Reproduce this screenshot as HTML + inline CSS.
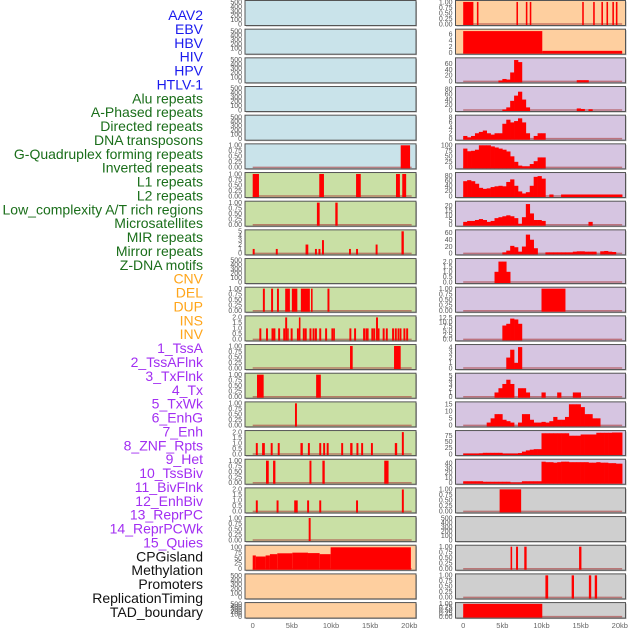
<!DOCTYPE html>
<html><head><meta charset="utf-8">
<style>
html,body{margin:0;padding:0;background:#fff;}
svg{display:block;font-family:"Liberation Sans",sans-serif;}
</style></head>
<body>
<svg id="chart" width="630" height="630" viewBox="0 0 630 630" xmlns="http://www.w3.org/2000/svg"></svg>
<script>
const NS="http://www.w3.org/2000/svg";
const labels=["AAV2","EBV","HBV","HIV","HPV","HTLV-1","Alu repeats","A-Phased repeats","Directed repeats","DNA transposons","G-Quadruplex forming repeats","Inverted repeats","L1 repeats","L2 repeats","Low_complexity A/T rich regions","Microsatellites","MIR repeats","Mirror repeats","Z-DNA motifs","CNV","DEL","DUP","INS","INV","1_TssA","2_TssAFlnk","3_TxFlnk","4_Tx","5_TxWk","6_EnhG","7_Enh","8_ZNF_Rpts","9_Het","10_TssBiv","11_BivFlnk","12_EnhBiv","13_ReprPC","14_ReprPCWk","15_Quies","CPGisland","Methylation","Promoters","ReplicationTiming","TAD_boundary"];
const labelGroups=["v","v","v","v","v","v","r","r","r","r","r","r","r","r","r","r","r","r","r","s","s","s","s","s","c","c","c","c","c","c","c","c","c","c","c","c","c","c","c","o","o","o","o","o"];
const xTickVals=[0,5,10,15,20];
const xTickLabels=["0","5kb","10kb","15kb","20kb"];
const T500=["0","100","200","300","400","500"], V500=[0,100,200,300,400,500];
const T1=["0.00","0.25","0.50","0.75","1.00"], V1=[0,0.25,0.5,0.75,1];
const T2=["0.0","0.5","1.0","1.5","2.0"], V2=[0,0.5,1,1.5,2];
// middle column panels
const midBg=["b","b","b","b","b","b","g","g","g","g","g","g","g","g","g","g","g","g","g","o","o","o"];
const midMax=[520,520,520,520,520,1.02,1.02,1.02,5.1,520,1.02,2.05,1.02,1.02,1.02,2.05,1.02,2.05,1.02,105,520,520];
const midTickVals=[V500,V500,V500,V500,V500,V1,V1,V1,[0,1,2,3,4,5],V500,V1,V2,V1,V1,V1,V2,V1,V2,V1,[0,25,50,75,100],V500,V500];
const midTickLabels=[T500,T500,T500,T500,T500,T1,T1,T1,["0","1","2","3","4","5"],T500,T1,T2,T1,T1,T1,T2,T1,T2,T1,["0","25","50","75","100"],T500,T500];
const midSegs=[[],[],[],[],[],
[[18.9,20.1,1]],
[[0,0.8,1],[8.5,9.1,1],[13.2,13.8,1],[18.3,18.8,1],[19.1,19.6,1]],
[[8.2,8.55,1],[10.55,10.85,1]],
[[0.0,0.25,1],[2.95,3.2,1],[6.75,7.1,2],[7.95,8.2,1],[8.4,8.65,1],[8.85,9.1,3],[12.3,12.55,1],[13.2,13.45,1],[15.7,15.95,2],[19.0,19.3,5]],
[],
[[1.3,1.55,1],[2.35,2.6,1],[3.1,3.35,1],[4.15,4.75,1],[5.0,5.7,1],[6.15,7.3,1],[7.45,7.65,1],[9.55,9.8,1]],
[[0.85,1.1,1],[1.7,1.95,1],[2.4,2.65,1],[2.65,2.9,1],[3.25,3.5,1],[3.9,4.15,1],[4.15,4.4,2],[4.4,4.6,1],[4.85,5.1,1],[5.65,5.9,1],[5.9,6.1,2],[6.4,6.65,1],[6.65,6.9,1],[7.25,7.5,1],[7.65,7.9,1],[7.95,8.2,1],[8.5,8.75,1],[9.25,9.5,1],[10.05,10.3,1],[10.3,10.5,1],[12.35,12.6,1],[12.95,13.2,1],[14.1,14.35,1],[14.4,14.6,1],[14.6,14.8,1],[15.15,15.4,1],[15.4,15.65,1],[15.75,16.0,2],[16.0,16.2,1],[16.6,16.85,1],[17.0,17.25,1],[17.8,18.05,1],[18.15,18.4,1],[18.5,18.7,1],[18.75,19.0,1],[19.25,19.5,1],[19.6,19.85,1]],
[[12.43,12.77,1],[18.05,18.9,1]],
[[0.55,1.4,1],[8.1,8.7,1]],
[[5.4,5.65,1]],
[[0.4,0.65,1],[1.2,1.55,1],[2.3,2.55,1],[3.2,3.45,1],[6.1,6.4,1],[7.05,7.3,1],[8.5,8.75,1],[9.0,9.25,1],[9.45,9.7,1],[11.3,11.55,1],[12.45,12.75,1],[13.25,13.5,1],[13.85,14.1,1],[15.1,15.35,1],[18.15,18.45,1],[19.05,19.3,2]],
[[1.7,2.05,1],[2.6,2.9,1],[7.25,7.5,1],[8.9,9.2,1],[16.8,17.35,1]],
[[0.4,0.65,1],[3.05,3.3,1],[5.3,5.75,1],[6.95,7.2,1],[8.5,8.75,1],[13.2,13.45,1],[19.05,19.3,2]],
[[7.15,7.4,1]],
[[0,0.4,62],[0.4,1.65,57],[1.65,2.2,62],[2.2,3.14,68],[3.14,5.06,72],[5.06,7.06,75],[7.06,8.55,73],[8.55,9.95,68],[9.95,20.2,100]],
[],[]];
// right column panels
const rightBg=["o","o","p","p","p","p","p","p","p","p","p","p","p","p","p","p","p","y","y","y","y","y"];
const rightMax=[1.02,7.3,76,86,8.3,102,88,24,66,2.2,1.02,13,4.3,5.3,16,92,46,1.02,520,1.02,1.02,1.02];
const rightTickVals=[V1,[0,2,4,6],[0,20,40,60],[0,20,40,60,80],[0,2,4,6,8],[0,25,50,75,100],[0,20,40,60,80],[0,5,10,15,20],[0,20,40,60],V2,V1,[0,2.5,5,7.5,10,12.5],[0,1,2,3,4],[0,1,2,3,4,5],[0,5,10,15],[0,25,50,75],[0,10,20,30,40],V1,V500,V1,V1,V1];
const rightTickLabels=[T1,["0","2","4","6"],["0","20","40","60"],["0","20","40","60","80"],["0","2","4","6","8"],["0","25","50","75","100"],["0","20","40","60","80"],["0","5","10","15","20"],["0","20","40","60"],T2,T1,["0.0","2.5","5.0","7.5","10.0","12.5"],["0","1","2","3","4"],["0","1","2","3","4","5"],["0","5","10","15"],["0","25","50","75"],["0","10","20","30","40"],T1,T500,T1,T1,T1];
const rightSegs=[
[[0,1.3,1],[1.75,1.95,1],[6.8,7.0,1],[8.0,8.2,1],[8.5,8.7,1],[15.2,15.4,1],[16.6,16.8,1],[17.65,17.85,1],[18.3,18.5,1],[19.05,19.25,1],[19.5,19.7,1]],
[[0,10.1,7],[10.1,20.3,0.6]],
[],[],[],[],[],[],[],[],
[[10.0,13.06,1]],
[],[],[],[],[],[],
[[4.65,7.4,1]],
[],
[[6.05,6.25,1],[6.75,7.0,1],[7.8,8.1,1],[14.8,15.1,1]],
[[10.5,10.85,1],[13.85,14.15,1],[16.05,16.35,1],[16.8,17.1,1]],
[[0,10.1,1]]];
// 0.5kb binned histograms (41 bins) for right panels
const binHIV=[0,0,0,0,0,0,0,0,0,3,8,6,30,72,65,0,0,0,0,0,0,0,0,0,0,0,0,0,0,4,4,4,0,0,0,0,0,0,0,0,0];
const binHPV=[0,0,0,0,0,0,0,0,0,0,2,10,35,55,70,40,10,0,0,0,0,0,0,0,0,0,0,0,0,6,4,0,3,0,0,0,0,0,0,0,0];
const binAlu=[1,0.5,1,2,2.5,3,2,1.5,2,2,5.5,7,6,6.5,7.5,6,2,0,1,2,2,0,0,0,0,0,0,0,0,0,0,0,0,0,0,0,0,0,0,0,0];
const binAPh=[85,73,75,80,100,100,100,95,90,85,80,72,50,25,8,5,5,15,28,45,45,0,0,0,0,0,0,0,0,0,0,0,0,0,0,0,0,0,0,0,0];
const binDir=[58,62,58,48,32,28,30,35,38,40,38,55,65,40,18,10,15,40,75,78,68,0,6,0,0,6,6,6,6,6,6,6,6,6,6,6,6,6,6,6,6];
const binDNA=[3,4,4,5,6,5,3,4,7,8,9,10,9,7,1,8,22,12,5,5,4,0,0,0,0,0,0,0,0,0,0,0,3,0,0,0,0,0,0,0,0];
const binGQ=[0,0,0,0,0,0,0,0,0,0,3,8,22,18,5,20,55,40,15,0,0,3,3,3,3,3,3,3,5,6,6,5,5,5,0,6,7,5,4,0,0];
const binInv=[0,0,0,0,0,0,0,0,1,2,2,1,0,0,0,0,0,0,0,0,0,0,0,0,0,0,0,0,0,0,0,0,0,0,0,0,0,0,0,0,0];
const binL2=[0,0,0,0,0,0,0,0,0,0,8,9,12,11.5,9,0,0,0,0,0,0,0,0,0,0,0,0,0,0,0,0,0,0,0,0,0,0,0,0,0,0];
const binLow=[0,0,0,0,0,0,0,0,0,0,0,2,3.5,1,4,0,0,0,0,0,0,0,0,0,0,0,0,0,0,0,0,0,0,0,0,0,0,0,0,0,0];
const binMic=[0,0,0,0,0,0,0,0,1,2,3,4,3,0,2,2,1,0,0,0,1,0,0,0,1,0,0,0,1,1,0,0,0,0,0,0,0,0,0,0,0];
const binMIR=[0,0,0,0,0,0,2,5,8,8,4,3,2,0,2,8,8,4,2,2,2.5,2,3,6,4,4,6,15,15,15,13,8,8,5,5,0,0,0,0,0,0];
const binMirror=[2,2,2,2,3,5,5,5,5,5,2,2,2,2,4,10,15,18,20,20,85,85,85,85,85,85,85,75,75,75,80,80,80,80,87,87,87,87,88,88,88];
const binZ=[3,3,3,3,3,2,2,2,2,2,2,2,0.5,0.5,0.5,3,3,3,3,3,43,42,42,41,42,43,43,42,42,42,42,42,41,41,42,41,41,40,40,39,39];
const rightBins=[null,null,binHIV,binHPV,binAlu,binAPh,binDir,binDNA,binGQ,binInv,null,binL2,binLow,binMic,binMIR,binMirror,binZ,null,null,null,null,null];

const bgColors={b:"#c9e3ea",g:"#c9e0a5",o:"#fecf9f",p:"#d6c5e1",y:"#cfcfcf"};
const groupColors={v:"#1a1aee",r:"#1a6e1a",s:"#ffa51a",c:"#a22ef2",o:"#111111"};
const PITCH=28.67, PH=25, LASTH=15.5;
const cols=[{x:245,w:171,bg:midBg,max:midMax,tv:midTickVals,tl:midTickLabels,segs:midSegs,bins:null,name:"left-track"},
            {x:455.5,w:170,bg:rightBg,max:rightMax,tv:rightTickVals,tl:rightTickLabels,segs:rightSegs,bins:rightBins,name:"right-track"}];
const svg=document.getElementById("chart");
function mk(tag,attrs,parent){const e=document.createElementNS(NS,tag);for(const k in attrs)e.setAttribute(k,attrs[k]);(parent||svg).appendChild(e);return e;}

const lg=mk("g",{});


labels.forEach((t,i)=>{
  const e=mk("text",{x:203,y:20+i*13.88,"text-anchor":"end","font-size":"14",fill:groupColors[labelGroups[i]]},lg);
  e.textContent=t;
  
  
});

cols.forEach((c,ci)=>{
  const xs=kb=>c.x+7.7+kb*7.83;
  for(let i=0;i<22;i++){
    const top=i*PITCH+0.5, h=(i===21?LASTH:PH);
    const y0=top+h-1.5, y1=top+1;
    const ys=v=>y0-(v/c.max[i])*(y0-y1);
    const g=mk("g",{});
    
    
    mk("rect",{x:c.x+1,y:top+1,width:c.w,height:h,fill:"#b0b0b0"},g);
    const bg=mk("rect",{x:c.x,y:top,width:c.w,height:h,fill:bgColors[c.bg[i]],stroke:"#555",'stroke-width':1},g);
    
    
    const hasData=c.segs[i].length>0||(c.bins&&c.bins[i]);
    if(hasData){
      const bl=mk("line",{x1:xs(0),x2:xs(20.3),y1:y0,y2:y0,stroke:"rgba(170,60,60,0.6)",'stroke-width':1.5},g);
      
      
    }
    c.segs[i].forEach(s=>{
      const r=mk("rect",{x:xs(s[0]),y:ys(s[2]),width:Math.max(1.5,xs(s[1])-xs(s[0])),height:y0-ys(s[2])+1,fill:"#ff0000"},g);
      
      
    });
    if(c.bins&&c.bins[i]){
      c.bins[i].forEach((v,b)=>{
        if(v<=0)return;
        const e=Math.min(20.3,(b+1)*0.5);
        const r=mk("rect",{x:xs(b*0.5),y:ys(v),width:xs(e)-xs(b*0.5)+0.3,height:y0-ys(v)+1,fill:"#ff0000"},g);
        
        
      });
    }
    c.tv[i].forEach((v,k)=>{
      const t=mk("text",{x:c.x-3,y:ys(v)+2.3,"text-anchor":"end","font-size":"7",fill:"#555"},g);
      t.textContent=c.tl[i][k];
      
      
    });
  }
  const ax=mk("g",{});
  
  
  xTickVals.forEach((v,k)=>{
    const t=mk("text",{x:xs(v),y:628,"text-anchor":"middle","font-size":"7.5",fill:"#666"},ax);
    t.textContent=xTickLabels[k];
    
    
  });
});
</script>
</body></html>
